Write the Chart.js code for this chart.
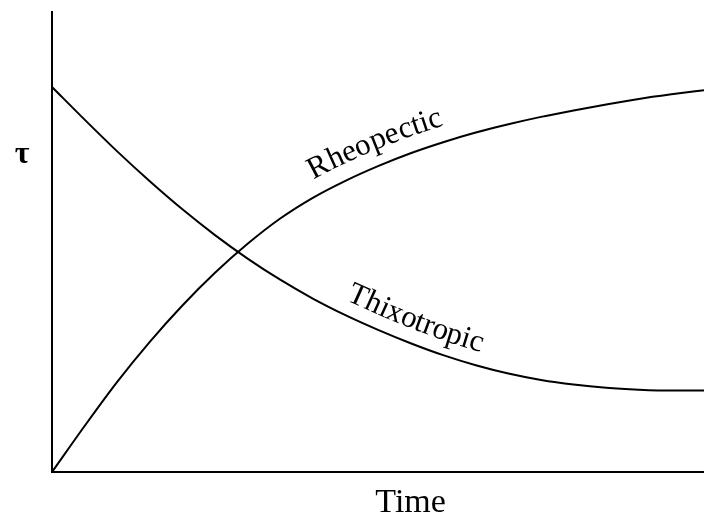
<!DOCTYPE html>
<html>
<head>
<meta charset="utf-8">
<script src="https://cdn.jsdelivr.net/npm/chart.js"></script>
<style>
  body { margin: 0; background: #fff; }
  #wrap { width: 704px; height: 519px; }
</style>
</head>
<body>
<div id="wrap"><canvas id="chart"></canvas></div>
<script>
// time axis (arbitrary units, no ticks shown)
const times = [0, 0.5, 1, 1.5, 2, 2.5, 3, 3.5, 4, 4.5, 5, 5.5, 6, 6.5, 7, 7.5, 8, 8.5, 9, 9.5, 10];

// shear stress tau
const rheopectic = [0, 10.0, 19.6, 28.3, 36.2, 43.3, 49.6, 55.1, 59.6, 63.3, 66.5, 69.3, 71.7, 73.8, 75.6, 77.2, 78.6, 79.9, 81.1, 82.1, 83.0];
const thixotropic = [83.7, 76.6, 69.7, 63.2, 57.1, 51.5, 46.4, 41.8, 37.7, 34.1, 30.9, 28.0, 25.4, 23.2, 21.4, 20.0, 19.0, 18.3, 17.9, 17.7, 17.7];

const seriesNames = ['Rheopectic', 'Thixotropic'];
const labelStart = [4.12, 4.42];   // where each curve label begins (time units)
const axisTitles = { x: 'Time', y: 'τ' };

const serif = '"Liberation Serif", "Times New Roman", serif';

const toXY = (ys) => ys.map((y, i) => ({ x: times[i], y: y }));

// point + angle at arc length s along a polyline
function pointAt(pts, s) {
  let acc = 0;
  for (let i = 1; i < pts.length; i++) {
    const dx = pts[i].x - pts[i - 1].x, dy = pts[i].y - pts[i - 1].y;
    const len = Math.hypot(dx, dy);
    if (acc + len >= s || i === pts.length - 1) {
      const t = len ? (s - acc) / len : 0;
      return { x: pts[i - 1].x + dx * t, y: pts[i - 1].y + dy * t, a: Math.atan2(dy, dx) };
    }
    acc += len;
  }
}

function arcAtX(pts, px) {
  let acc = 0;
  for (let i = 1; i < pts.length; i++) {
    const dx = pts[i].x - pts[i - 1].x, dy = pts[i].y - pts[i - 1].y;
    const len = Math.hypot(dx, dy);
    if (pts[i].x >= px) return acc + len * (px - pts[i - 1].x) / dx;
    acc += len;
  }
  return acc;
}

function labelCurve(chart, index, text, startVal, offset) {
  const ctx = chart.ctx;
  const pts = chart.getDatasetMeta(index).data.map(p => ({ x: p.x, y: p.y }));
  let s = arcAtX(pts, chart.scales.x.getPixelForValue(startVal));
  for (const ch of text) {
    const w = ctx.measureText(ch).width;
    const p = pointAt(pts, s + w / 2);
    ctx.save();
    ctx.translate(p.x + Math.sin(p.a) * offset, p.y - Math.cos(p.a) * offset);
    ctx.rotate(p.a);
    ctx.fillText(ch, -w / 2, 0);
    ctx.restore();
    s += w;
  }
}

const annotations = {
  id: 'annotations',
  afterDraw(chart) {
    const ctx = chart.ctx;
    const { x, y } = chart.scales;
    ctx.save();
    ctx.fillStyle = '#000';
    ctx.textBaseline = 'alphabetic';
    ctx.font = '31px ' + serif;
    labelCurve(chart, 0, seriesNames[0], labelStart[0], 16);
    labelCurve(chart, 1, seriesNames[1], labelStart[1], 14);

    ctx.textAlign = 'center';
    ctx.font = '34px ' + serif;
    ctx.fillText(axisTitles.x, x.getPixelForValue(5.5), chart.chartArea.bottom + 40);
    ctx.font = 'bold 32px ' + serif;
    ctx.textBaseline = 'middle';
    ctx.fillText(axisTitles.y, chart.chartArea.left - 30, y.getPixelForValue(69));
    ctx.restore();
  }
};

const axis = (min, max) => ({
  type: 'linear',
  min: min,
  max: max,
  grid: { display: false, drawTicks: false },
  border: { display: true, color: '#000', width: 2 },
  ticks: { display: false }
});

new Chart(document.getElementById('chart'), {
  type: 'line',
  data: {
    datasets: [
      { label: seriesNames[0], data: toXY(rheopectic) },
      { label: seriesNames[1], data: toXY(thixotropic) }
    ]
  },
  options: {
    responsive: true,
    maintainAspectRatio: false,
    animation: false,
    layout: { padding: { left: 52, top: 12, right: 0, bottom: 47 } },
    elements: {
      line: { borderColor: '#000', borderWidth: 2, cubicInterpolationMode: 'monotone', fill: false },
      point: { radius: 0 }
    },
    plugins: { legend: { display: false }, tooltip: { enabled: false } },
    scales: { x: axis(0, 10), y: axis(0, 100) }
  },
  plugins: [annotations]
});
</script>
</body>
</html>
